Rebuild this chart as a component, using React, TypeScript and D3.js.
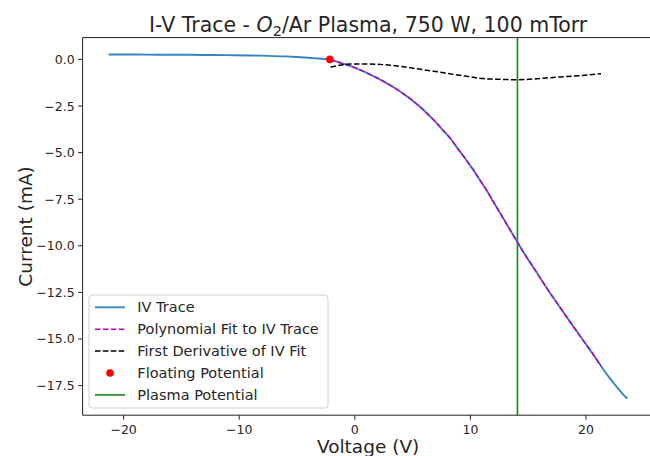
import React from "react";
import * as d3 from "d3";

// IV trace (measured)
const traceV = [-21.3, -19, -17, -15, -13, -11, -9, -7.5, -6, -5, -4, -3.2, -2.6, -2.16, -1.5, -0.8, -0.15, 0.6, 1.3, 2.0, 2.74, 3.5, 4.17, 4.9, 5.62, 6.3, 7.06, 7.6, 8.21, 8.93, 9.6, 10.22, 10.8, 11.38, 11.95, 12.53, 13.2, 13.97, 14.7, 15.41, 15.86, 16.8, 17.73, 18.7, 19.75, 20.5, 21.19, 21.6, 22.06, 22.5, 22.9, 23.2, 23.5, 23.6];
const traceI = [0.26, 0.26, 0.25, 0.25, 0.24, 0.23, 0.21, 0.19, 0.16, 0.13, 0.09, 0.05, 0.02, 0.0, -0.13, -0.27, -0.41, -0.6, -0.8, -1.02, -1.27, -1.55, -1.83, -2.17, -2.53, -2.93, -3.4, -3.78, -4.2, -4.8, -5.36, -5.9, -6.45, -7.0, -7.6, -8.2, -8.9, -9.7, -10.45, -11.12, -11.55, -12.45, -13.28, -14.15, -15.07, -15.72, -16.35, -16.72, -17.1, -17.45, -17.75, -17.97, -18.15, -18.2];

// Polynomial fit
const fitV = [-2.16, -1.5, -0.8, -0.15, 0.6, 1.3, 2.0, 2.74, 3.5, 4.17, 4.9, 5.62, 6.3, 7.06, 7.6, 8.21, 8.93, 9.6, 10.22, 10.8, 11.38, 11.95, 12.53, 13.2, 13.97, 14.7, 15.41, 15.86, 16.8, 17.73, 18.7, 19.75, 20.5, 21.3];
const fitI = [0.0, -0.13, -0.27, -0.41, -0.6, -0.8, -1.02, -1.27, -1.55, -1.83, -2.17, -2.53, -2.93, -3.4, -3.78, -4.2, -4.8, -5.36, -5.9, -6.45, -7.0, -7.6, -8.2, -8.9, -9.7, -10.45, -11.12, -11.55, -12.45, -13.28, -14.15, -15.07, -15.72, -16.45];

// First derivative of fit
const derivV = [-2.1, -1.2, -0.43, 1.0, 2.42, 3.9, 5.33, 6.8, 8.2, 9.7, 11.1, 12.6, 14.06, 15.5, 16.9, 18.3, 19.7, 21.3];
const derivI = [-0.41, -0.3, -0.24, -0.24, -0.28, -0.37, -0.5, -0.63, -0.77, -0.91, -1.03, -1.07, -1.09, -1.05, -0.98, -0.92, -0.86, -0.77];

const floatingV = -2.16;
const floatingI = 0.0;
const plasmaV = 14.07;

const xTicks = [-20, -10, 0, 10, 20];
const yTicks = [0, -2.5, -5, -7.5, -10, -12.5, -15, -17.5];

const legendLabels = [
  "IV Trace",
  "Polynomial Fit to IV Trace",
  "First Derivative of IV Fit",
  "Floating Potential",
  "Plasma Potential",
];

const FONT = "'DejaVu Sans', sans-serif";
const TEXT = "#262626";

export default function App() {
  const W = 650;
  const H = 456;
  const left = 82.6;
  const right = 653.6;
  const top = 37.6;
  const bottom = 415.2;

  const x = d3.scaleLinear().domain([-23.55, 25.85]).range([left, right]);
  const y = d3.scaleLinear().domain([-19.09, 1.17]).range([bottom, top]);

  const mk = (vs: number[], is: number[]) =>
    d3
      .line<number>()
      .x((_, i) => x(vs[i]))
      .y((d) => y(d))
      .curve(d3.curveMonotoneX)(is) || "";

  const blue = "#3585c4";
  const magenta = "#bf00bf";
  const green = "#138a13";

  const legX = 89;
  const legY = 295;
  const legW = 239;
  const legH = 113;
  const rowY = (i: number) => 307.3 + i * 21.9;

  const fmt = (v: number) => {
    const s = v.toFixed(1);
    return s.replace("-", "\u2212");
  };

  return (
    <svg
      width={W}
      height={H}
      style={{ position: "absolute", left: 0, top: 0, background: "#fff" }}
      fontFamily={FONT}
    >
      <defs>
        <clipPath id="plotclip">
          <rect x={left} y={top} width={right - left} height={bottom - top} />
        </clipPath>
      </defs>
      <rect x={0} y={0} width={W} height={H} fill="#fff" />

      <g clipPath="url(#plotclip)">
        <line x1={x(plasmaV)} x2={x(plasmaV)} y1={top} y2={bottom} stroke={green} strokeWidth={1.6} />
        <path d={mk(traceV, traceI)} fill="none" stroke={blue} strokeWidth={1.9} />
        <path d={mk(fitV, fitI)} fill="none" stroke={magenta} strokeWidth={1.5} strokeDasharray="5.5,2.4" />
        <path d={mk(derivV, derivI)} fill="none" stroke="#000" strokeWidth={1.5} strokeDasharray="5.5,2.4" />
        <circle cx={x(floatingV)} cy={y(floatingI)} r={3.8} fill="#ff0000" />
      </g>

      {/* spines */}
      <line x1={left} x2={left} y1={top} y2={bottom} stroke="#222" strokeWidth={1} />
      <line x1={left} x2={W} y1={bottom} y2={bottom} stroke="#222" strokeWidth={1} />
      <line x1={left} x2={W} y1={top} y2={top} stroke="#222" strokeWidth={1} />

      {/* x ticks */}
      {xTicks.map((t) => (
        <g key={"x" + t}>
          <line x1={x(t)} x2={x(t)} y1={bottom} y2={bottom + 4.5} stroke="#222" strokeWidth={1} />
          <text x={x(t)} y={bottom + 18.5} textAnchor="middle" fontSize={12.5} fill={TEXT}>
            {String(t).replace("-", "\u2212")}
          </text>
        </g>
      ))}

      {/* y ticks */}
      {yTicks.map((t) => (
        <g key={"y" + t}>
          <line x1={left - 4.5} x2={left} y1={y(t)} y2={y(t)} stroke="#222" strokeWidth={1} />
          <text x={left - 8} y={y(t) + 4.5} textAnchor="end" fontSize={12.5} fill={TEXT}>
            {fmt(t)}
          </text>
        </g>
      ))}

      {/* title */}
      <text x={(left + right) / 2} y={31.7} textAnchor="middle" fontSize={20.5} fill={TEXT}>
        I-V Trace - <tspan fontStyle="italic">O</tspan>
        <tspan fontSize={14.5} dy={4}>2</tspan>
        <tspan dy={-4}>/Ar Plasma, 750 W, 100 mTorr</tspan>
      </text>

      {/* axis labels */}
      <text x={(left + right) / 2} y={453} textAnchor="middle" fontSize={18.5} fill={TEXT}>
        Voltage (V)
      </text>
      <text
        transform={`translate(31.7, ${(top + bottom) / 2}) rotate(-90)`}
        textAnchor="middle"
        fontSize={18.5}
        fill={TEXT}
      >
        Current (mA)
      </text>

      {/* legend */}
      <rect x={legX} y={legY} width={legW} height={legH} rx={3.5} fill="#fff" fillOpacity={0.8} stroke="#d0d0d0" strokeWidth={1} />
      {legendLabels.map((lab, i) => {
        const cy = rowY(i);
        let handle: React.ReactNode = null;
        if (i === 0) handle = <line x1={95} x2={125} y1={cy} y2={cy} stroke={blue} strokeWidth={1.9} />;
        if (i === 1) handle = <line x1={95} x2={125} y1={cy} y2={cy} stroke={magenta} strokeWidth={1.5} strokeDasharray="5.5,2.4" />;
        if (i === 2) handle = <line x1={95} x2={125} y1={cy} y2={cy} stroke="#000" strokeWidth={1.5} strokeDasharray="5.5,2.4" />;
        if (i === 3) handle = <circle cx={110} cy={cy} r={3.8} fill="#ff0000" />;
        if (i === 4) handle = <line x1={95} x2={125} y1={cy} y2={cy} stroke={green} strokeWidth={1.6} />;
        return (
          <g key={lab}>
            {handle}
            <text x={137.3} y={cy + 5} fontSize={14.5} fill={TEXT}>
              {lab}
            </text>
          </g>
        );
      })}
    </svg>
  );
}
